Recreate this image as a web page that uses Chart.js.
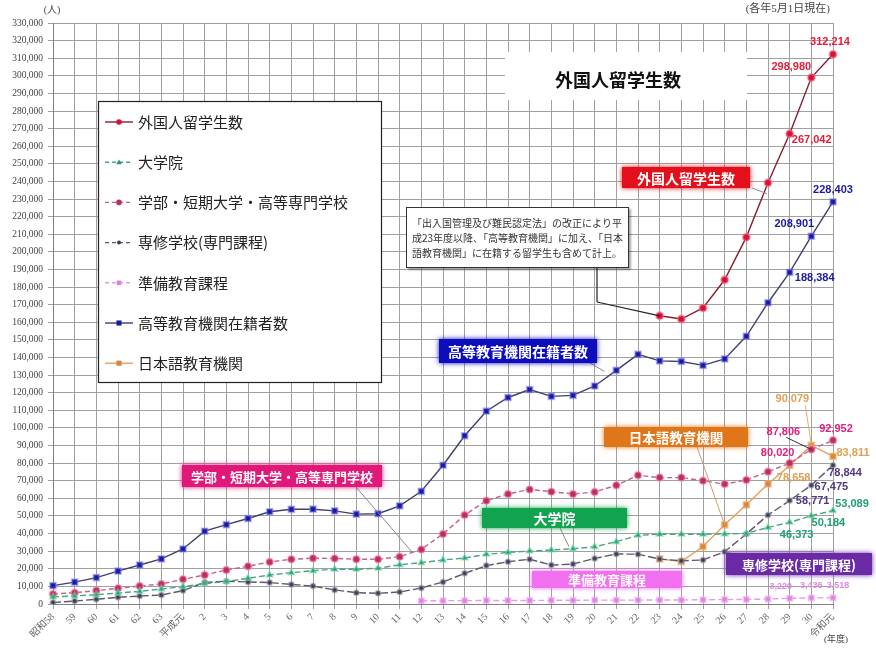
<!DOCTYPE html>
<html lang="ja">
<head>
<meta charset="UTF-8">
<title>外国人留学生数</title>
<style>
  body { margin: 0; background: #fff; }
  #wrap { width: 876px; height: 650px; }
</style>
<script src="https://cdn.jsdelivr.net/npm/chart.js"></script>
</head>
<body>
<div id="wrap"><canvas id="chart" width="876" height="650"></canvas></div>
<script>
// 年度 (昭和58 = 1983 ... 令和元 = 2019)
const years = ['昭和58','59','60','61','62','63','平成元','2','3','4','5','6','7','8','9','10',
  '11','12','13','14','15','16','17','18','19','20','21','22','23','24','25','26','27','28','29','30','令和元'];

const N = null;
// 外国人留学生数 (平成23年度以降のみ)
const totalStudents = [N,N,N,N,N,N,N,N,N,N,N,N,N,N,N,N,N,N,N,N,N,N,N,N,N,N,N,N,
  163697,161848,168145,184155,208379,239287,267042,298980,312214];
// 大学院
const graduate = [4000,4600,5300,6200,7200,8500,9900,11600,12800,14600,16500,17800,18900,19800,
  19700,20300,22300,23500,25000,26100,28200,29300,30100,30700,31400,32500,35400,39000,
  39600,39600,39600,39800,40100,43500,46373,50184,53089];
// 学部・短期大学・高等専門学校
const undergrad = [5700,6400,7600,8900,10200,11400,14000,16500,19300,21400,23900,25400,26000,25900,
  25400,25400,26900,31000,39800,50500,58700,62500,65100,63800,62500,63600,67400,73100,
  71800,71800,70000,68100,70400,75100,80020,87806,92952];
// 専修学校(専門課程)
const vocational = [800,1700,2700,3800,4500,5100,7600,12300,12900,12500,12200,11100,10200,8000,
  6400,6100,6800,9100,12500,17400,21800,24000,25400,22100,22700,25900,28400,28300,
  25500,24600,25000,29700,39800,50500,58771,67475,78844];
// 準備教育課程
const prep = [N,N,N,N,N,N,N,N,N,N,N,N,N,N,N,N,N,
  1800,1900,1900,2000,2000,2000,2100,2100,2200,2200,2200,2300,2300,2400,2500,2600,2800,3220,3436,3518];
// 高等教育機関在籍者数
const higherEd = [10428,12410,15009,18631,22154,25643,31251,41347,45066,48561,52405,53787,53847,52921,
  51047,51298,55755,64011,78812,95550,109508,117302,121812,117927,118498,123829,132720,141774,
  138075,137756,135519,139185,152062,171122,188384,208901,228403];
// 日本語教育機関
const japanese = [N,N,N,N,N,N,N,N,N,N,N,N,N,N,N,N,N,N,N,N,N,N,N,N,N,N,N,N,
  25622,24092,32626,44970,56317,68165,78658,90079,83811];

const JP = '"Noto Sans CJK JP", sans-serif';
const SERIF = '"Liberation Serif", "Noto Sans CJK JP", serif';

function ds(label, data, line, dash, style, fill, halo, r) {
  return {
    label: label, data: data, borderColor: line, borderWidth: 1.4, borderDash: dash,
    pointStyle: style, pointRadius: r, pointBackgroundColor: fill,
    pointBorderColor: halo, pointBorderWidth: 2, tension: 0, spanGaps: false
  };
}

const datasets = [
  ds('外国人留学生数', totalStudents, '#8a1c30', [], 'circle', '#d4123a', 'rgba(255,110,130,0.55)', 3.5),
  ds('大学院', graduate, '#4aa383', [6, 3], 'triangle', '#1f9a6a', 'rgba(120,220,170,0.5)', 3.5),
  ds('学部・短期大学・高等専門学校', undergrad, '#c06488', [5, 3], 'circle', '#b8305f', 'rgba(255,140,180,0.5)', 3.5),
  ds('専修学校(専門課程)', vocational, '#5a5a66', [8, 3], 'circle', '#3c3c55', 'rgba(150,150,170,0.5)', 2.5),
  ds('準備教育課程', prep, '#e59be5', [6, 3], 'rect', '#e07ee0', 'rgba(240,170,240,0.6)', 3.5),
  ds('高等教育機関在籍者数', higherEd, '#40406a', [], 'rect', '#1b1b95', 'rgba(120,120,255,0.5)', 4),
  ds('日本語教育機関', japanese, '#e0a060', [], 'rect', '#d8843a', 'rgba(240,170,100,0.6)', 4)
];

// value labels: dataset, index, offset x, offset y, colour, font size
const valueLabels = [
  [0, 36, -3, -12, '#e0203a', 11], [0, 35, -20, -11, '#e0203a', 11], [0, 34, 22, 6, '#e0203a', 11],
  [5, 36, 0, -12, '#1a1aa0', 11], [5, 35, -17, -12, '#1a1aa0', 11], [5, 34, 25, 6, '#1a1aa0', 11],
  [6, 35, -19, -46, '#e0a050', 11], [6, 36, 20, -3, '#e0a050', 11], [6, 34, 4, 12, '#e0a050', 11],
  [2, 35, -28, -17, '#e0207a', 11], [2, 36, 3, -11, '#e0207a', 11], [2, 34, -12, -10, '#e0207a', 11],
  [3, 36, 12, 8, '#503a80', 11], [3, 35, 20, 2, '#503a80', 11], [3, 34, 23, 0, '#503a80', 11],
  [1, 36, 19, -7, '#20a070', 11], [1, 35, 17, 7, '#20a070', 11], [1, 34, 7, 13, '#20a070', 11],
  [4, 34, -9, -12, '#e088e0', 9], [4, 35, 0, -12, '#e088e0', 9], [4, 36, 5, -12, '#e088e0', 9]
];

function pt(chart, d, i) {
  const p = chart.getDatasetMeta(d).data[i];
  return { x: p.x, y: p.y };
}

function line(ctx, x1, y1, x2, y2, color, w) {
  ctx.save();
  ctx.strokeStyle = color; ctx.lineWidth = w || 1;
  ctx.beginPath(); ctx.moveTo(x1, y1); ctx.lineTo(x2, y2); ctx.stroke();
  ctx.restore();
}

function tag(ctx, x1, y1, x2, y2, fill, text, size) {
  ctx.save();
  ctx.shadowColor = fill; ctx.shadowBlur = 5;
  ctx.fillStyle = fill;
  ctx.fillRect(x1, y1, x2 - x1, y2 - y1);
  ctx.restore();
  ctx.save();
  ctx.fillStyle = '#fff';
  ctx.font = 'bold ' + size + 'px ' + JP;
  ctx.textAlign = 'center'; ctx.textBaseline = 'middle';
  ctx.fillText(text, (x1 + x2) / 2, (y1 + y2) / 2 + 1);
  ctx.restore();
}

function marker(ctx, style, x, y, r, fill) {
  ctx.fillStyle = fill;
  ctx.beginPath();
  if (style === 'rect') ctx.rect(x - r * 0.8, y - r * 0.8, r * 1.6, r * 1.6);
  else if (style === 'triangle') { ctx.moveTo(x, y - r); ctx.lineTo(x + r, y + r * 0.7); ctx.lineTo(x - r, y + r * 0.7); ctx.closePath(); }
  else ctx.arc(x, y, r, 0, Math.PI * 2);
  ctx.fill();
}

const deco = {
  id: 'deco',
  afterDraw(chart) {
    const ctx = chart.ctx;
    ctx.save();

    // corner texts
    ctx.fillStyle = '#444';
    ctx.font = '10px ' + SERIF;
    ctx.textBaseline = 'middle';
    ctx.textAlign = 'center';
    ctx.fillText('(人)', 52, 10);
    ctx.textAlign = 'right';
    ctx.font = '11px ' + SERIF;
    ctx.fillText('(各年5月1日現在)', 830, 9);
    ctx.font = '9px ' + SERIF;
    ctx.textAlign = 'center';
    ctx.fillText('(年度)', 836, 640);

    // title
    ctx.fillStyle = '#fff';
    ctx.fillRect(505, 52, 242, 48);
    ctx.fillStyle = '#111';
    ctx.font = 'bold 18px ' + JP;
    ctx.textAlign = 'center';
    ctx.fillText('外国人留学生数', 618, 80);

    // legend
    ctx.fillStyle = '#fff';
    ctx.fillRect(98, 101, 284, 282);
    ctx.strokeStyle = '#222'; ctx.lineWidth = 1.2;
    ctx.strokeRect(98.5, 101.5, 283, 281);
    chart.data.datasets.forEach((d, k) => {
      const y = 122 + k * 40.2;
      ctx.save();
      ctx.strokeStyle = d.borderColor; ctx.lineWidth = 1.4;
      ctx.setLineDash(d.borderDash.length ? [4, 3] : []);
      ctx.beginPath(); ctx.moveTo(105, y); ctx.lineTo(133, y); ctx.stroke();
      ctx.restore();
      marker(ctx, d.pointStyle, 119, y, d.pointRadius * 0.8, d.pointBackgroundColor);
      ctx.fillStyle = '#222';
      ctx.font = '15px ' + JP;
      ctx.textAlign = 'left';
      ctx.fillText(d.label, 138, y);
    });

    // note box
    ctx.save();
    ctx.shadowColor = 'rgba(0,0,0,0.35)'; ctx.shadowOffsetX = 2; ctx.shadowOffsetY = 2; ctx.shadowBlur = 2;
    ctx.fillStyle = '#fff';
    ctx.fillRect(406, 207, 223, 61);
    ctx.restore();
    ctx.strokeStyle = '#333'; ctx.lineWidth = 1;
    ctx.strokeRect(406.5, 207.5, 222, 60);
    ctx.fillStyle = '#333';
    ctx.font = '10px ' + JP;
    ctx.textAlign = 'left';
    ctx.fillText('「出入国管理及び難民認定法」の改正により平', 412, 223);
    ctx.fillText('成23年度以降、「高等教育機関」に加え、「日本', 412, 238);
    ctx.fillText('語教育機関」に在籍する留学生も含めて計上。', 412, 253);
    const r28 = pt(chart, 0, 28);
    line(ctx, 597, 268, 597, 302, '#222', 1.2);
    line(ctx, 597, 302, r28.x, r28.y, '#222', 1.2);

    // series tags with leader lines
    const lead = '#8a8a8a';
    let p = pt(chart, 0, 33);
    line(ctx, 752, 188, p.x - 1, p.y + 11, lead);
    tag(ctx, 622, 167, 750, 188, '#e3101c', '外国人留学生数', 14);

    p = pt(chart, 5, 26);
    line(ctx, 590, 363, p.x - 12, p.y + 1, lead);
    tag(ctx, 439, 339, 597, 363, '#0d0dbb', '高等教育機関在籍者数', 14);

    p = pt(chart, 6, 31);
    line(ctx, 697, 447, p.x, p.y, '#c8a070');
    tag(ctx, 604, 427, 748, 447, '#e0761a', '日本語教育機関', 13.5);

    p = pt(chart, 2, 17);
    line(ctx, 356, 487, p.x - 9, p.y + 3, lead);
    tag(ctx, 182, 465, 382, 487, '#e0187a', '学部・短期大学・高等専門学校', 13);

    p = pt(chart, 1, 24);
    line(ctx, 560, 528, p.x - 4, p.y - 2, lead);
    tag(ctx, 482, 508, 627, 528, '#12a34e', '大学院', 14);

    tag(ctx, 532, 571, 682, 588, '#f070f0', '準備教育課程', 13);

    p = pt(chart, 3, 31);
    line(ctx, p.x, p.y, 734, 554, lead);
    tag(ctx, 726, 553, 872, 575, '#6a2aa5', '専修学校(専門課程)', 13);

    // value labels
    const o35 = pt(chart, 6, 35);
    line(ctx, o35.x - 6, o35.y - 40, o35.x, o35.y, '#e0b070');
    const u35 = pt(chart, 2, 35);
    line(ctx, u35.x - 25, u35.y - 12, u35.x, u35.y, '#333');
    ctx.textAlign = 'center';
    valueLabels.forEach(v => {
      const q = pt(chart, v[0], v[1]);
      const val = chart.data.datasets[v[0]].data[v[1]];
      ctx.font = 'bold ' + v[5] + 'px "Liberation Sans", Arial, sans-serif';
      ctx.fillStyle = v[4];
      ctx.fillText(val.toLocaleString('en-US'), q.x + v[2], q.y + v[3]);
    });

    ctx.restore();
  }
};

new Chart(document.getElementById('chart'), {
  type: 'line',
  data: { labels: years, datasets: datasets },
  options: {
    responsive: false,
    animation: false,
    layout: { padding: { top: 23, right: 43, left: 0, bottom: 0 } },
    plugins: { legend: { display: false }, tooltip: { enabled: false } },
    scales: {
      x: {
        grid: { color: '#a0a0a0', tickLength: 5 },
        border: { color: '#808080' },
        ticks: { autoSkip: false, maxRotation: 45, minRotation: 45, padding: 2,
          color: '#666', font: { family: SERIF, size: 10 } },
        afterFit: s => { s.height = 46; }
      },
      y: {
        min: 0, max: 330000,
        grid: { color: '#a0a0a0', tickLength: 5 },
        border: { color: '#808080' },
        ticks: { stepSize: 10000, padding: 5, color: '#444',
          font: { family: SERIF, size: 9.5 },
          callback: v => v.toLocaleString('en-US') },
        afterFit: s => { s.width = 53; }
      }
    }
  },
  plugins: [deco]
});
</script>
</body>
</html>
